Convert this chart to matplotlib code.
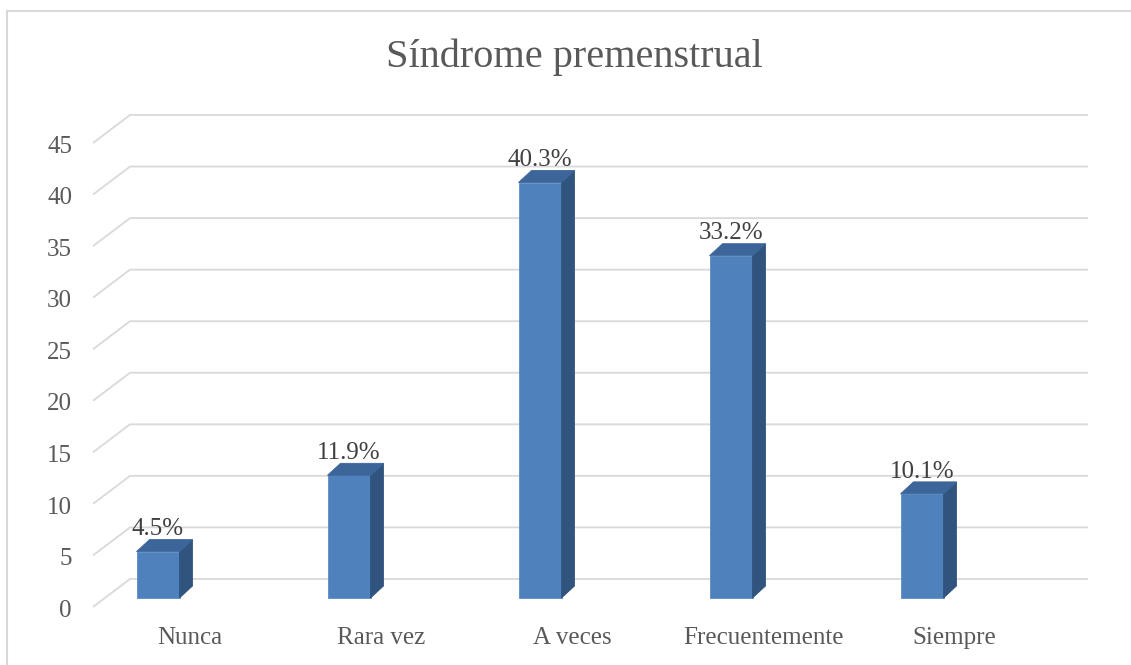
import matplotlib
matplotlib.use("Agg")
import matplotlib.pyplot as plt
from matplotlib.patches import Polygon, Rectangle

# data
categories = ["Nunca", "Rara vez", "A veces", "Frecuentemente", "Siempre"]
values = [4.5, 11.9, 40.3, 33.2, 10.1]
labels = ["4.5%", "11.9%", "40.3%", "33.2%", "10.1%"]
yticks = [0, 5, 10, 15, 20, 25, 30, 35, 40, 45]
title = "Síndrome premenstrual"

# geometry (data units: x = category, y = value)
CAT_PX = 191.0
UNIT_PX = 10.31
FLOOR_DX, FLOOR_DY = 37 / CAT_PX, 28 / UNIT_PX      # full floor depth
BAR_POS = 0.32                                       # bar front at 32% depth
BAR_W = 43 / CAT_PX
BAR_DX, BAR_DY = 13 / CAT_PX, 12 / UNIT_PX           # bar depth
GRID_X0 = -65 / CAT_PX
GRID_X1 = 930 / CAT_PX

FRONT = "#4F81BD"
SIDE = "#31547F"
TOP = "#3C659A"
GRID = "#D9D9D9"
TEXT = "#595959"
FONT = ["Liberation Serif", "DejaVu Serif"]

plt.rcParams["font.family"] = FONT

fig = plt.figure(figsize=(11.31, 6.65), dpi=100)
ax = fig.add_axes([0, 0, 1, 1])
ax.set_xlim(-158 / CAT_PX, 973 / CAT_PX)
ax.set_ylim(-67 / UNIT_PX, 598 / UNIT_PX)
ax.axis("off")

# chart border (left + top)
fig.add_artist(plt.Line2D([7 / 1131, 7 / 1131], [0, 1 - 11 / 665], color="#D9D9D9", lw=1.5))
fig.add_artist(plt.Line2D([7 / 1131, 1], [1 - 11 / 665, 1 - 11 / 665], color="#D9D9D9", lw=1.5))

# gridlines: diagonal on side wall, horizontal on back wall
fx = GRID_X0
for v in yticks:
    fy = v - BAR_POS * FLOOR_DY
    ax.plot([fx, fx + FLOOR_DX, GRID_X1], [fy, fy + FLOOR_DY, fy + FLOOR_DY],
            color=GRID, lw=1.3, zorder=1, solid_capstyle="butt")
    ax.text(-86 / CAT_PX, fy - 0.94, str(v), ha="right", va="baseline", fontsize=18, color=TEXT)

# bars
for i, (v, lab) in enumerate(zip(values, labels)):
    x0 = i - BAR_W / 2
    x1 = i + BAR_W / 2
    ax.add_patch(Rectangle((x0, 0), BAR_W, v, facecolor=FRONT, edgecolor="#5B8CC6", lw=0.6, zorder=3))
    ax.add_patch(Polygon([(x1, 0), (x1 + BAR_DX, BAR_DY), (x1 + BAR_DX, v + BAR_DY), (x1, v)],
                         closed=True, facecolor=SIDE, edgecolor=SIDE, lw=0.6, zorder=3))
    ax.add_patch(Polygon([(x0, v), (x0 + BAR_DX, v + BAR_DY), (x1 + BAR_DX, v + BAR_DY), (x1, v)],
                         closed=True, facecolor=TOP, edgecolor=TOP, lw=0.6, zorder=3))
    ax.text(i, v + BAR_DY + 0.42, lab, ha="center", va="baseline", fontsize=18, color="#404040", zorder=4)

# category labels
for i, c in enumerate(categories):
    ax.text(i + 32 / CAT_PX, -46 / UNIT_PX, c, ha="center", va="baseline", fontsize=18, color=TEXT)

fig.text(574 / 1131, 1 - 67 / 665, title, ha="center", va="baseline", fontsize=29, color=TEXT)

fig.savefig("out.png", dpi=100)
